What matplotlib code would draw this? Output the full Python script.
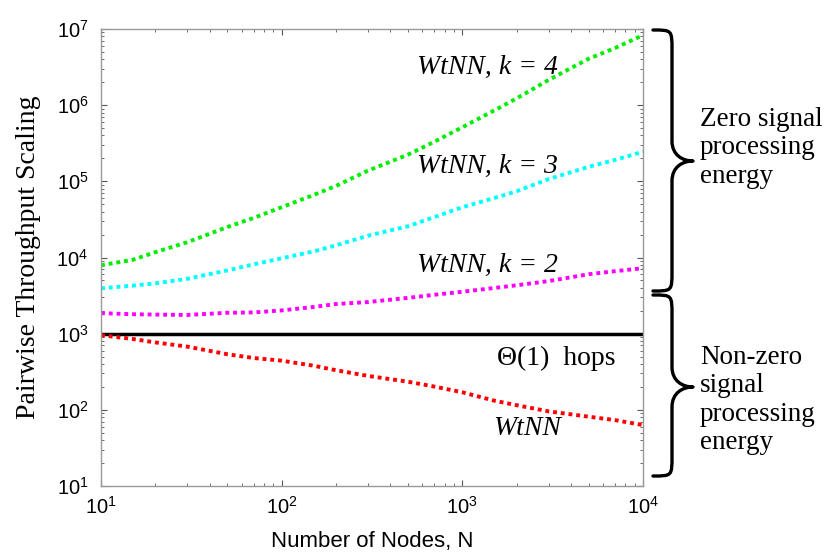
import matplotlib
matplotlib.use("Agg")
import matplotlib.pyplot as plt
from matplotlib.path import Path
from matplotlib.patches import PathPatch
from matplotlib.ticker import NullFormatter

plt.rcParams['font.family'] = ['Liberation Sans', 'DejaVu Sans']

# values (log-log)
nodes = [10, 15, 20, 30, 50, 70, 100, 150, 200, 300, 500, 700,
         1000, 1500, 2000, 3000, 5000, 7000, 10000]
wtnn_k4 = [7900, 9330, 11750, 15850, 25100, 33100, 45700, 66100, 87100,
           138000, 224000, 331000, 513000, 851000, 1230000, 2140000,
           4070000, 5620000, 8300000]
wtnn_k3 = [3940, 4270, 4570, 5250, 6760, 8130, 9770, 12000, 14450, 19300,
           25700, 33900, 45700, 60300, 74100, 107000, 155000, 191000, 245000]
wtnn_k2 = [1860, 1800, 1780, 1760, 1880, 1900, 2020, 2240, 2450, 2600,
           2950, 3240, 3550, 3980, 4320, 4900, 6030, 6610, 7240]
wtnn = [955, 851, 767, 676, 537, 479, 442, 380, 331, 279, 234, 202,
        170, 132, 115, 95.5, 81.3, 73.3, 63.1]
const_hops = [1000] * len(nodes)

W, H = 825, 557
fig = plt.figure(figsize=(W / 100, H / 100), dpi=100)
ax = fig.add_axes([101 / W, 1 - 486 / H, 542 / W, 457 / H])

dot = (0, (1, 1))
lw_dot = 2.8
ax.plot(nodes, wtnn_k4, color='#00ee00', lw=lw_dot, ls=dot, dash_capstyle='butt')
ax.plot(nodes, wtnn_k3, color='#00ffff', lw=lw_dot, ls=dot, dash_capstyle='butt')
ax.plot(nodes, wtnn_k2, color='#ff00ff', lw=lw_dot, ls=dot, dash_capstyle='butt')
ax.plot(nodes, const_hops, color='black', lw=2.5)
ax.plot(nodes, wtnn, color='#ff0000', lw=lw_dot, ls=dot, dash_capstyle='butt')

ax.set_xscale('log')
ax.set_yscale('log')
ax.set_xlim(10, 1e4)
ax.set_ylim(10, 1e7)
ax.xaxis.set_minor_formatter(NullFormatter())
ax.yaxis.set_minor_formatter(NullFormatter())

for s in ax.spines.values():
    s.set_color('#999999')
    s.set_linewidth(1.0)
ax.tick_params(which='both', direction='in', top=True, right=True,
               color='#555555', labelsize=14.5)
ax.tick_params(which='major', length=4.5, width=0.8)
ax.tick_params(which='minor', length=2.5, width=0.6)
ax.tick_params(axis='y', pad=9)
ax.tick_params(axis='x', pad=7)

ax.set_xlabel('Number of Nodes, N', fontsize=16)
ax.xaxis.set_label_coords(0.5, -0.098)
ax.xaxis.label.set_va('top')
ax.set_ylabel('Pairwise Throughput Scaling', fontsize=20,
              family='Liberation Serif')
ax.yaxis.set_label_coords(-0.11, 0.5)

serif = 'Liberation Serif'
ax.text(561, 3.1e6, 'WtNN, k = 4', family=serif, style='italic',
        fontsize=20, va='center')
ax.text(561, 1.55e5, 'WtNN, k = 3', family=serif, style='italic',
        fontsize=20, va='center')
ax.text(561, 7.9e3, 'WtNN, k = 2', family=serif, style='italic',
        fontsize=20, va='center')
ax.text(1550, 480, '\u0398(1)  hops', family=serif, fontsize=20, va='center')
ax.text(1480, 57, 'WtNN', family=serif, style='italic', fontsize=20,
        va='center')


def brace(y_top, y_bot, y_mid, xh=653, xs=672, xt=693, r=20):
    pts = [(xh, y_top), (xs, y_top), (xs, y_top), (xs, y_top + r),
           (xs, y_mid - r),
           (xs, y_mid - 0.3 * r), (xs + 0.5 * (xt - xs), y_mid), (xt, y_mid),
           (xs + 0.5 * (xt - xs), y_mid), (xs, y_mid + 0.3 * r), (xs, y_mid + r),
           (xs, y_bot - r),
           (xs, y_bot), (xs, y_bot), (xh, y_bot)]
    codes = [Path.MOVETO] + [Path.CURVE4] * 3 + [Path.LINETO] + \
        [Path.CURVE4] * 6 + [Path.LINETO] + [Path.CURVE4] * 3
    verts = [(x / W, 1 - y / H) for x, y in pts]
    fig.add_artist(PathPatch(Path(verts, codes), transform=fig.transFigure,
                             fill=False, lw=2.4, color='black',
                             capstyle='round', joinstyle='round'))


brace(30, 291, 161)
brace(295, 476, 387)

fig.text(700 / W, 1 - 148 / H, 'Zero signal\nprocessing\nenergy',
         family=serif, fontsize=19.5, va='center', ha='left',
         linespacing=1.18, transform=fig.transFigure)
fig.text(700 / W, 1 - 400 / H, 'Non-zero\nsignal\nprocessing\nenergy',
         family=serif, fontsize=19.5, va='center', ha='left',
         linespacing=1.18, transform=fig.transFigure)

fig.savefig('out.png', dpi=100)
